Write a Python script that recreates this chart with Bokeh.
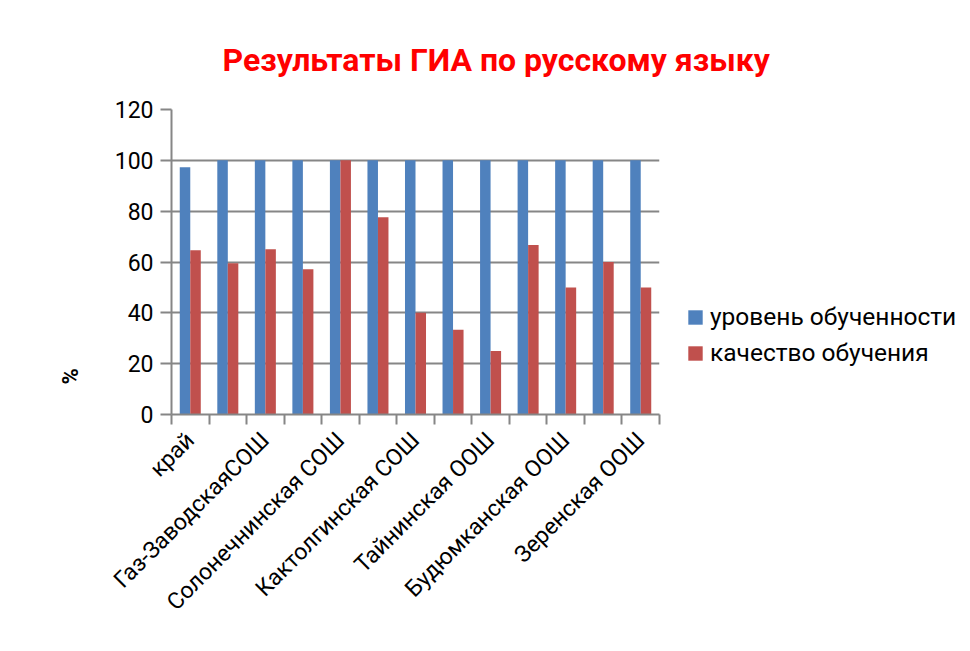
from math import pi
from bokeh.plotting import figure
from bokeh.models import (ColumnDataSource, Range1d, FixedTicker, Legend, LegendItem, Title)
from bokeh.transform import dodge
from bokeh.embed import file_html
from bokeh.resources import INLINE

# ---- data ----
# 13 categories; labels of every second one are hidden in the source chart
categories = ["край", "", "Газ-ЗаводскаяСОШ", "", "Солонечнинская СОШ", "",
              "Кактолгинская СОШ", "", "Тайнинская ООШ", "", "Будюмканская ООШ", "",
              "Зеренская ООШ"]
uroven = [97.3, 100, 100, 100, 100, 100, 100, 100, 100, 100, 100, 100, 100]
kachestvo = [64.6, 59.5, 65.0, 57.1, 100, 77.6, 40.0, 33.3, 25.0, 66.7, 50.0, 60.0, 50.0]
series_names = ["уровень обученности", "качество обучения"]
y_ticks = [0, 20, 40, 60, 80, 100, 120]
title_text = "Результаты ГИА по русскому языку"
y_label = "%"

FONT = "Roboto"
GRAY = "#868686"
BLUE = "#4F81BD"
RED = "#C0504D"

idx = list(range(len(categories)))
src = ColumnDataSource(dict(x=idx, u=uroven, k=kachestvo))

p = figure(frame_width=488, frame_height=305, output_backend="svg", toolbar_location=None,
           x_range=Range1d(-0.5, len(categories) - 0.5), y_range=Range1d(0, 120),
           min_border_left=171, min_border_right=300, min_border_top=109,
           min_border_bottom=231, background_fill_color="white",
           border_fill_color="white")
p.outline_line_color = None

r1 = p.vbar(x=dodge("x", -0.14, range=p.x_range), top="u", width=0.28, source=src,
            fill_color=BLUE, line_color=None)
r2 = p.vbar(x=dodge("x", 0.14, range=p.x_range), top="k", width=0.28, source=src,
            fill_color=RED, line_color=None)

# title
p.title.text = title_text
p.title.text_font = FONT
p.title.text_font_size = "32px"
p.title.text_font_style = "bold"
p.title.text_color = "#FF0000"
p.title.align = "left"
p.title.offset = 51
p.title.standoff = 61

# y axis
ya = p.yaxis[0]
ya.ticker = FixedTicker(ticks=y_ticks)
ya.axis_line_color = GRAY
ya.axis_line_width = 2
ya.major_tick_line_color = GRAY
ya.major_tick_line_width = 2
ya.major_tick_out = 11
ya.major_tick_in = 0
ya.minor_tick_line_color = None
ya.major_label_text_font = FONT
ya.major_label_text_font_size = "23px"
ya.major_label_text_color = "black"
ya.major_label_standoff = 7

p.ygrid.ticker = FixedTicker(ticks=y_ticks)
p.ygrid.grid_line_color = GRAY
p.ygrid.grid_line_width = 2
p.xgrid.grid_line_color = None

# x axis
xa = p.xaxis[0]
label_pos = [i for i, c in enumerate(categories) if c]
xa.ticker = FixedTicker(ticks=label_pos,
                        minor_ticks=[i - 0.5 for i in range(len(categories) + 1)])
xa.major_label_overrides = {i: categories[i] for i in label_pos}
xa.axis_line_color = GRAY
xa.axis_line_width = 2
xa.major_tick_line_color = None
xa.minor_tick_line_color = GRAY
xa.minor_tick_line_width = 2
xa.minor_tick_out = 10
xa.minor_tick_in = 0
xa.major_label_orientation = pi / 4
xa.major_label_text_font = FONT
xa.major_label_text_font_size = "23px"
xa.major_label_text_color = "black"
xa.major_label_standoff = 12

# y label "%" (left side title)
p.add_layout(Title(text=y_label, align="left", offset=30, standoff=57,
                   text_font=FONT, text_font_size="22px", text_font_style="bold",
                   text_color="black"), "left")

legend = Legend(items=[LegendItem(label=series_names[0], renderers=[r1]),
                       LegendItem(label=series_names[1], renderers=[r2])],
                location=(27, 47), padding=0, margin=0, border_line_color=None,
                background_fill_alpha=0, glyph_width=18, glyph_height=18,
                label_height=24, spacing=7, label_standoff=6,
                label_text_font=FONT, label_text_font_size="24.5px",
                label_text_color="black")
p.add_layout(legend, "right")

open("out.html", "w").write(file_html(p, INLINE))
